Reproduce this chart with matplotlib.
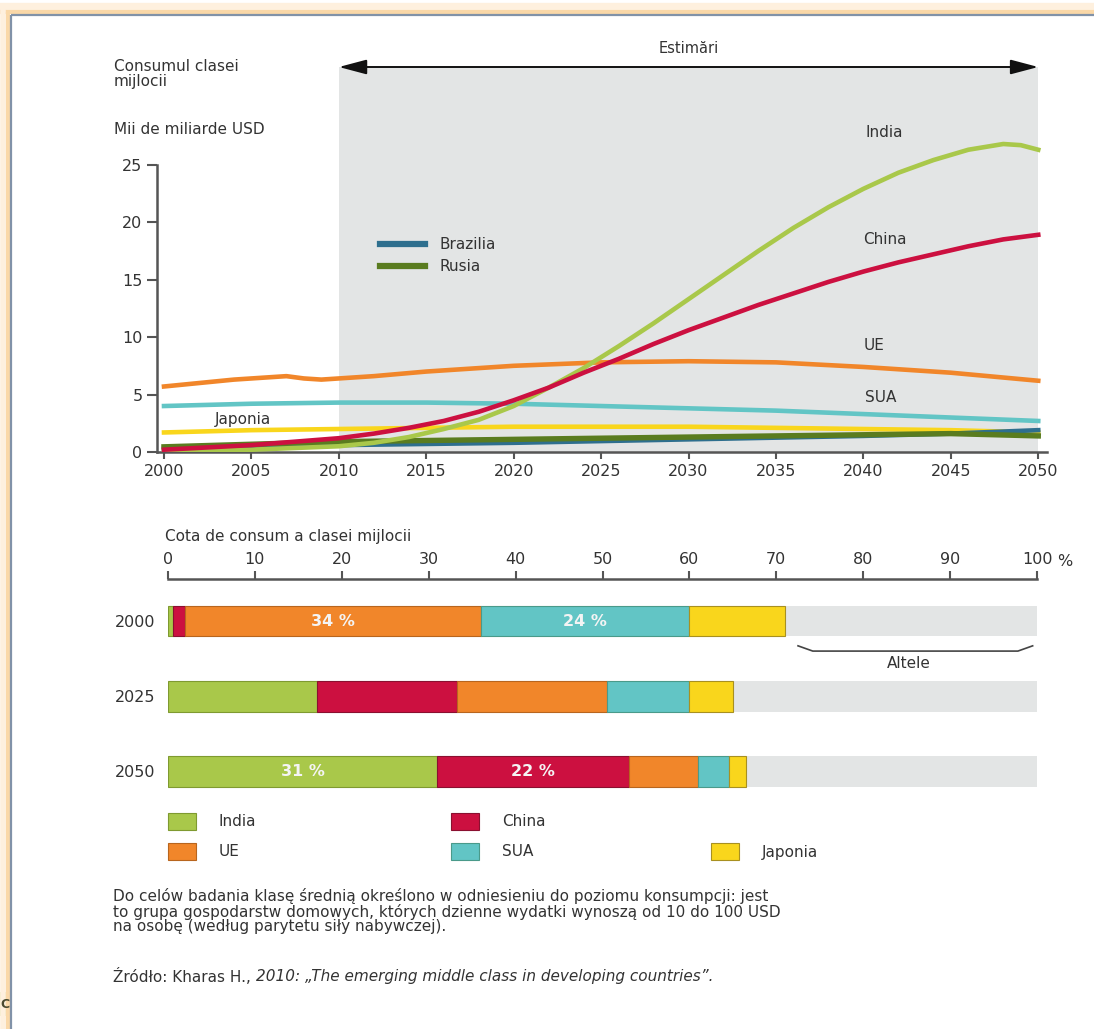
import matplotlib
matplotlib.use("Agg")
import matplotlib.pyplot as plt
from matplotlib.patches import Rectangle

plt.rcParams['font.family'] = ['DejaVu Sans']

W, H = 1094, 1029

# ---- Middle-class consumption, thousands of billions USD ----
india_years = [2000, 2005, 2010, 2012, 2014, 2016, 2018, 2020, 2022, 2024, 2026, 2028,
               2030, 2032, 2034, 2036, 2038, 2040, 2042, 2044, 2046, 2048, 2049, 2050]
india_vals = [0.1, 0.2, 0.5, 0.8, 1.3, 2.0, 2.8, 4.0, 5.6, 7.3, 9.2, 11.2,
              13.3, 15.4, 17.5, 19.5, 21.3, 22.9, 24.3, 25.4, 26.3, 26.8, 26.7, 26.3]

china_years = [2000, 2005, 2010, 2012, 2014, 2016, 2018, 2020, 2022, 2024, 2026, 2028,
               2030, 2032, 2034, 2036, 2038, 2040, 2042, 2044, 2046, 2048, 2050]
china_vals = [0.2, 0.6, 1.2, 1.6, 2.1, 2.7, 3.5, 4.5, 5.6, 6.9, 8.1, 9.4,
              10.6, 11.7, 12.8, 13.8, 14.8, 15.7, 16.5, 17.2, 17.9, 18.5, 18.9]

ue_years = [2000, 2002, 2004, 2006, 2007, 2008, 2009, 2010, 2012, 2015, 2020, 2025,
            2030, 2035, 2040, 2045, 2050]
ue_vals = [5.7, 6.0, 6.3, 6.5, 6.6, 6.4, 6.3, 6.4, 6.6, 7.0, 7.5, 7.8,
           7.9, 7.8, 7.4, 6.9, 6.2]

sua_years = [2000, 2005, 2010, 2015, 2020, 2025, 2030, 2035, 2040, 2045, 2050]
sua_vals = [4.0, 4.2, 4.3, 4.3, 4.2, 4.0, 3.8, 3.6, 3.3, 3.0, 2.7]

japan_years = [2000, 2005, 2010, 2015, 2020, 2025, 2030, 2035, 2040, 2045, 2050]
japan_vals = [1.7, 1.9, 2.0, 2.1, 2.2, 2.2, 2.2, 2.1, 2.0, 1.9, 1.7]

brazil_years = [2000, 2010, 2020, 2030, 2040, 2045, 2050]
brazil_vals = [0.3, 0.6, 0.8, 1.1, 1.4, 1.6, 1.9]

russia_years = [2000, 2010, 2020, 2030, 2040, 2045, 2050]
russia_vals = [0.45, 0.9, 1.1, 1.3, 1.5, 1.6, 1.4]

# ---- Share of middle-class consumption, % ----
share_years = ["2000", "2025", "2050"]
share_regions = ["India", "China", "UE", "SUA", "Japonia"]
share_india = [0.6, 17.2, 31]
share_china = [1.4, 16.0, 22]
share_ue = [34, 17.3, 8.0]
share_sua = [24, 9.5, 3.5]
share_japan = [11.0, 5.0, 2.0]
labelled = {("UE", 0): 34, ("SUA", 0): 24, ("India", 2): 31, ("China", 2): 22}

C_INDIA = "#a9c84a"
C_CHINA = "#cc1040"
C_UE = "#f1862a"
C_SUA = "#62c5c5"
C_JAPAN = "#f9d61c"
C_BRAZIL = "#2e6f8e"
C_RUSSIA = "#5a7c1f"
SHADE = "#e3e5e5"
TXT = "#333333"
AXC = "#555555"
FS = 11
TFS = 11.5


def rect(x0, y0, x1, y1):
    return [x0 / W, 1 - y1 / H, (x1 - x0) / W, (y1 - y0) / H]


fig = plt.figure(figsize=(W / 100, H / 100), dpi=100)
fig.patch.set_facecolor("white")

# overlay in pixel units for free-standing text, key and frame
ov = fig.add_axes([0, 0, 1, 1], zorder=0)
ov.set_xlim(0, W)
ov.set_ylim(H, 0)
ov.axis("off")

# frame glow and border
ov.plot([0, W], [7, 7], color="#fef0de", lw=6, solid_capstyle="butt")
ov.plot([0, W], [11.5, 11.5], color="#fad8a8", lw=3, solid_capstyle="butt")
ov.plot([3, 3], [7, H], color="#fef0de", lw=4, solid_capstyle="butt")
ov.plot([7.5, 7.5], [11.5, H], color="#fad8a8", lw=3, solid_capstyle="butt")
ov.plot([10.5, W], [14.5, 14.5], color="#8192a8", lw=1.6, solid_capstyle="butt")
ov.plot([10.5, 10.5], [14.5, H], color="#8192a8", lw=1.6, solid_capstyle="butt")
ov.add_patch(Rectangle((0, 992), 9.5, 24, color="#dfe3a8", lw=0))
ov.text(0.5, 1004, "C", fontsize=9, color="#4b4b30", ha="left", va="center",
        fontweight="bold")

# ---------------- line chart ----------------
ax = fig.add_axes(rect(157, 67, 1047, 452), zorder=1)
ax.patch.set_alpha(0)
ax.axvspan(2010, 2050, color=SHADE, lw=0, zorder=0)

lw = 3.3
ax.plot(japan_years, japan_vals, color=C_JAPAN, lw=lw, zorder=2)
ax.plot(sua_years, sua_vals, color=C_SUA, lw=lw, zorder=2)
ax.plot(ue_years, ue_vals, color=C_UE, lw=lw, zorder=2)
l_br, = ax.plot(brazil_years, brazil_vals, color=C_BRAZIL, lw=lw, zorder=3, label="Brazilia")
l_ru, = ax.plot(russia_years, russia_vals, color=C_RUSSIA, lw=lw + 0.6, zorder=3, label="Rusia")
ax.plot(india_years, india_vals, color=C_INDIA, lw=lw, zorder=4)
ax.plot(china_years, china_vals, color=C_CHINA, lw=lw, zorder=5)

ax.set_xlim(1999.6, 2050.5)
ax.set_ylim(0, 33.5)
for s in ["top", "right"]:
    ax.spines[s].set_visible(False)
for s in ["left", "bottom"]:
    ax.spines[s].set_color(AXC)
    ax.spines[s].set_linewidth(1.8)
ax.spines["left"].set_bounds(0, 25)
ax.set_xticks(range(2000, 2051, 5))
ax.set_yticks(range(0, 26, 5))
ax.tick_params(axis="y", direction="out", length=7.5, width=1.5, color=AXC,
               labelcolor=TXT, labelsize=TFS, pad=3)
ax.tick_params(axis="x", direction="out", length=5, width=1.5, color=AXC,
               labelcolor=TXT, labelsize=TFS, pad=4)

ax.annotate("", xy=(2050, 33.5), xytext=(2010, 33.5), annotation_clip=False,
            arrowprops=dict(arrowstyle="<|-|>,head_length=1.7,head_width=0.45",
                            color="#111111", lw=1.4, shrinkA=0, shrinkB=0,
                            mutation_scale=10))
ax.text(2030, 35.1, "Estimări", ha="center", va="center", fontsize=10.5, color=TXT,
        clip_on=False)

ax.text(2041.2, 27.8, "India", ha="center", va="center", fontsize=FS, color=TXT)
ax.text(2041.2, 18.5, "China", ha="center", va="center", fontsize=FS, color=TXT)
ax.text(2040.6, 9.3, "UE", ha="center", va="center", fontsize=FS, color=TXT)
ax.text(2041.0, 4.7, "SUA", ha="center", va="center", fontsize=FS, color=TXT)
ax.text(2004.5, 2.8, "Japonia", ha="center", va="center", fontsize=FS, color=TXT)

leg = ax.legend(handles=[l_br, l_ru], loc="upper left", bbox_to_anchor=(0.251, 0.558),
                frameon=False, fontsize=FS, handlelength=2.9, handletextpad=1.0,
                labelspacing=0.45, borderpad=0, borderaxespad=0)
for t in leg.get_texts():
    t.set_color(TXT)
for h in leg.legend_handles:
    h.set_linewidth(4.5)

ov.text(114, 74, "Consumul clasei\nmijlocii", ha="left", va="center", fontsize=FS,
        color=TXT, linespacing=0.95)
ov.text(114, 129, "Mii de miliarde USD", ha="left", va="center", fontsize=FS, color=TXT)

# ---------------- share bars ----------------
bx = fig.add_axes(rect(168, 579, 1037, 790), zorder=1)
bx.patch.set_alpha(0)
bx.set_xlim(0, 100)
bx.set_ylim(2.25, -0.56)

series = [("India", share_india, C_INDIA, "#7f9a30"),
          ("China", share_china, C_CHINA, "#8a1030"),
          ("UE", share_ue, C_UE, "#b8651e"),
          ("SUA", share_sua, C_SUA, "#4a9a8a"),
          ("Japonia", share_japan, C_JAPAN, "#a89020")]
ypos = list(range(len(share_years)))
bh = 0.41
left = [0.0] * len(share_years)
for name, vals, col, ec in series:
    bx.barh(ypos, vals, left=left, height=bh, color=col, edgecolor=ec, lw=0.8, zorder=3)
    for i, v in enumerate(vals):
        if (name, i) in labelled:
            bx.text(left[i] + v / 2, i, f"{labelled[(name, i)]} %", ha="center", va="center",
                    fontsize=11.5, color="#f4f4f4", fontweight="bold", zorder=4)
    left = [l + v for l, v in zip(left, vals)]
rest = [100 - l for l in left]
bx.barh(ypos, rest, left=left, height=bh, color=SHADE, lw=0, zorder=2)

for s in ["bottom", "left", "right"]:
    bx.spines[s].set_visible(False)
bx.spines["top"].set_color(AXC)
bx.spines["top"].set_linewidth(1.8)
bx.xaxis.tick_top()
bx.set_xticks(range(0, 101, 10))
bx.tick_params(axis="x", direction="out", length=6, width=1.5, color=AXC,
               labelcolor=TXT, labelsize=TFS, pad=3)
bx.set_yticks(ypos)
bx.set_yticklabels(share_years)
bx.tick_params(axis="y", length=0, labelcolor=TXT, labelsize=TFS, pad=9)

# bracket for the remaining share
bx.plot([72.5, 74.2, 97.8, 99.5], [0.33, 0.40, 0.40, 0.33], color="#444444", lw=1.2,
        zorder=3, clip_on=False)
bx.text(85.3, 0.56, "Altele", ha="center", va="center", fontsize=FS, color=TXT)

ov.text(1057, 561, "%", ha="left", va="center", fontsize=TFS, color=TXT)
ov.text(165, 536, "Cota de consum a clasei mijlocii", ha="left", va="center",
        fontsize=FS, color=TXT)

# region key
key = [("India", C_INDIA, "#7f9a30", 168, 821),
       ("China", C_CHINA, "#8a1030", 451, 821),
       ("UE", C_UE, "#b8651e", 168, 851),
       ("SUA", C_SUA, "#4a9a8a", 451, 851),
       ("Japonia", C_JAPAN, "#a89020", 711, 851)]
for name, col, ec, x, y in key:
    ov.add_patch(Rectangle((x, y - 8.5), 28, 17, facecolor=col, edgecolor=ec, lw=0.8))
    ov.text(x + 51, y + 1, name, ha="left", va="center", fontsize=FS, color=TXT)

note = ["Do celów badania klasę średnią określono w odniesieniu do poziomu konsumpcji: jest",
        "to grupa gospodarstw domowych, których dzienne wydatki wynoszą od 10 do 100 USD",
        "na osobę (według parytetu siły nabywczej)."]
for k, line in enumerate(note):
    ov.text(113, 896 + 15.5 * k, line, ha="left", va="center", fontsize=11, color=TXT)

src = ov.text(113, 976, "Źródło: Kharas H., ", ha="left", va="center", fontsize=11,
              color=TXT)
fig.canvas.draw()
bb = src.get_window_extent()
ov.text(113 + bb.width, 976, "2010: „The emerging middle class in developing countries”.",
        ha="left", va="center", fontsize=11, color=TXT, style="italic")

fig.savefig("out.png", dpi=100)
